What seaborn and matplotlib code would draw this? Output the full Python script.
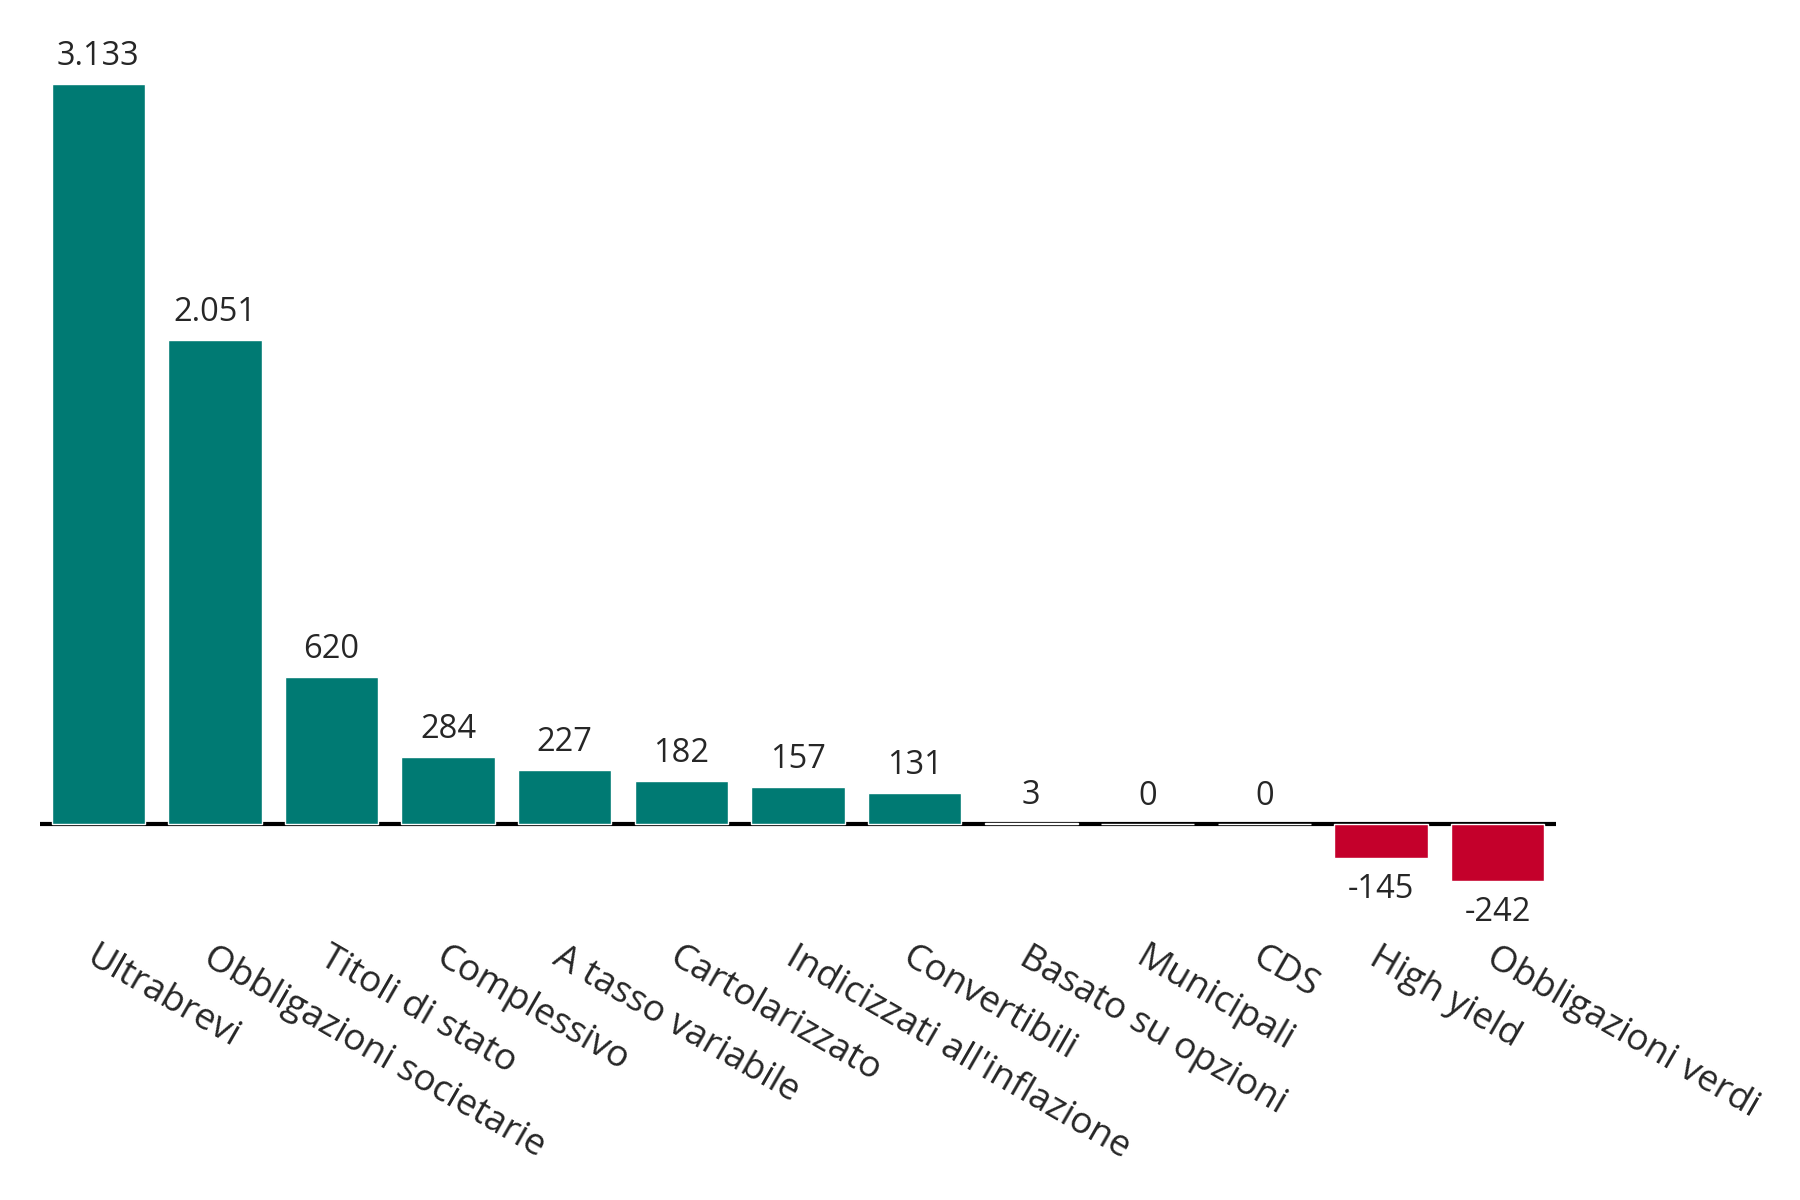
import numpy as np
import pandas as pd
import matplotlib
matplotlib.use("Agg")
import matplotlib.pyplot as plt
import seaborn as sns

categories = [
    "Ultrabrevi", "Obbligazioni societarie", "Titoli di stato", "Complessivo",
    "A tasso variabile", "Cartolarizzato", "Indicizzati all'inflazione",
    "Convertibili", "Basato su opzioni", "Municipali", "CDS", "High yield",
    "Obbligazioni verdi",
]
values = [3133, 2051, 620, 284, 227, 182, 157, 131, 3, 0, 0, -145, -242]

TEAL = "#007A73"
RED = "#C4002B"

sns.set_theme(style="white")
plt.rcParams["font.family"] = ["Open Sans", "DejaVu Sans"]

df = pd.DataFrame({"cat": categories, "val": values})
df["sign"] = np.where(df["val"] < 0, "neg", "pos")

fig = plt.figure(figsize=(18, 12), dpi=100)
ax = fig.add_axes([0.0222, 0.225, 0.8422, 0.7375])

sns.barplot(data=df, x="cat", y="val", hue="sign",
            palette={"pos": TEAL, "neg": RED}, legend=False, saturation=1,
            width=0.8, edgecolor="white", linewidth=1, ax=ax, zorder=3)

ax.axhline(0, color="black", lw=3, zorder=2)
ax.set_xlim(-0.5, len(categories) - 0.5)
ax.set_ylim(-450, 3300)

# value labels: above positive bars, below negative ones
for i, v in enumerate(values):
    txt = f"{v:,}".replace(",", ".")
    if v < 0:
        ax.annotate(txt, (i, v), xytext=(0, -11), textcoords="offset points",
                    ha="center", va="top", fontsize=23.5)
    else:
        ax.annotate(txt, (i, v), xytext=(0, 8), textcoords="offset points",
                    ha="center", va="bottom", fontsize=23.5)

ax.set_xticks(range(len(categories)))
ax.set_xticklabels(categories, rotation=-30, ha="left", va="top",
                   rotation_mode="anchor", fontsize=26.5)
ax.tick_params(axis="x", length=0, pad=7)
ax.set_yticks([])
ax.set_xlabel("")
ax.set_ylabel("")
for s in ax.spines.values():
    s.set_visible(False)

fig.savefig("out.png", dpi=100, facecolor="white")
